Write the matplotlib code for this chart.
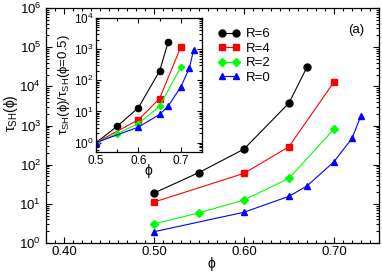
import matplotlib
matplotlib.use("Agg")
import matplotlib.pyplot as plt
import numpy as np
from matplotlib.ticker import LogLocator, MultipleLocator, NullFormatter, FormatStrFormatter

plt.rcParams["font.family"] = ["Liberation Sans", "DejaVu Sans"]
plt.rcParams["mathtext.fontset"] = "custom"
plt.rcParams["mathtext.rm"] = "Liberation Sans"
plt.rcParams["mathtext.it"] = "Liberation Sans:italic"
plt.rcParams["mathtext.default"] = "regular"

# tau_SH(phi), one series per R
phi_r6 = [0.50, 0.55, 0.60, 0.65, 0.67]
tau_r6 = [18.9, 63, 250, 3750, 31000]
phi_r4 = [0.50, 0.60, 0.65, 0.70]
tau_r4 = [11.1, 60, 288, 13000]
phi_r2 = [0.50, 0.55, 0.60, 0.65, 0.70]
tau_r2 = [3.06, 5.9, 12.5, 45, 813]
phi_r0 = [0.50, 0.60, 0.65, 0.67, 0.70, 0.72, 0.73]
tau_r0 = [1.94, 6.1, 15.6, 28.5, 119, 470, 1780]

series = [
    ("R=6", phi_r6, tau_r6, "black", "o", 5.0),
    ("R=4", phi_r4, tau_r4, "#ff0000", "s", 4.3),
    ("R=2", phi_r2, tau_r2, "#00ff00", "D", 3.6),
    ("R=0", phi_r0, tau_r0, "#0000ff", "^", 5.0),
]

fig = plt.figure(figsize=(3.82, 2.74), dpi=100)
ax = fig.add_axes([0.1204, 0.1131, 0.8717, 0.8577])

for label, x, y, c, m, ms in series:
    ax.plot(x, y, color=c, marker=m, markersize=ms, linewidth=0.8, label=label)

ax.set_yscale("log")
ax.set_xlim(0.38, 0.75)
ax.set_ylim(1, 1e6)
ax.xaxis.set_major_locator(MultipleLocator(0.1))
ax.xaxis.set_minor_locator(MultipleLocator(0.01))
ax.xaxis.set_major_formatter(FormatStrFormatter("%.2f"))
ax.yaxis.set_major_locator(LogLocator(base=10, numticks=10))
ax.yaxis.set_minor_locator(LogLocator(base=10, subs=np.arange(2, 10), numticks=10))
ax.yaxis.set_minor_formatter(NullFormatter())
ax.tick_params(which="both", direction="in", top=True, right=True, labelsize=9.5, width=0.8)
ax.tick_params(axis="x", pad=2)
ax.tick_params(which="major", length=4)
ax.tick_params(which="minor", length=2.2)
for s in ax.spines.values():
    s.set_linewidth(0.9)

ax.set_xlabel("ϕ", fontsize=10)
ax.xaxis.set_label_coords(0.498, -0.058)
ax.set_ylabel(r"$\tau_{SH}(\phi)$", fontsize=10)
ax.yaxis.set_label_coords(-0.078, 0.553)
ax.text(0.933, 0.906, "(a)", transform=ax.transAxes, fontsize=9.5, ha="center", va="center")

ax.legend(loc="upper left", bbox_to_anchor=(0.5165, 0.915), frameon=False, numpoints=2,
          fontsize=9.5, handlelength=1.65, handletextpad=0.45, labelspacing=0.18,
          borderpad=0, borderaxespad=0)

# inset: tau normalised by its value at phi=0.5
ins = fig.add_axes([0.2513, 0.4453, 0.2775, 0.4891])
for label, x, y, c, m, ms in series:
    ratio = np.array(y) / y[0]
    ins.plot(x, ratio, color=c, marker=m, markersize=ms * 0.9, linewidth=0.8)

ins.set_yscale("log")
ins.set_xlim(0.5, 0.75)
ins.set_ylim(0.5, 1e4)
ins.xaxis.set_major_locator(MultipleLocator(0.1))
ins.xaxis.set_minor_locator(MultipleLocator(0.05))
ins.xaxis.set_major_formatter(FormatStrFormatter("%.1f"))
ins.yaxis.set_major_locator(LogLocator(base=10, numticks=10))
ins.yaxis.set_minor_locator(LogLocator(base=10, subs=np.arange(2, 10), numticks=10))
ins.yaxis.set_minor_formatter(NullFormatter())
ins.tick_params(which="both", direction="in", top=True, right=True, labelsize=8.5, width=0.8, pad=2)
ins.tick_params(which="major", length=3.5)
ins.tick_params(which="minor", length=2)
for s in ins.spines.values():
    s.set_linewidth(0.9)
ins.set_xlabel("ϕ", fontsize=10)
ins.xaxis.set_label_coords(0.497, -0.09)
ins.set_ylabel(r"$\tau_{SH}(\phi)/\tau_{SH}(\phi$=0.5)", fontsize=9.5)
ins.yaxis.set_label_coords(-0.226, 0.5)

fig.savefig("out.png", dpi=100)
